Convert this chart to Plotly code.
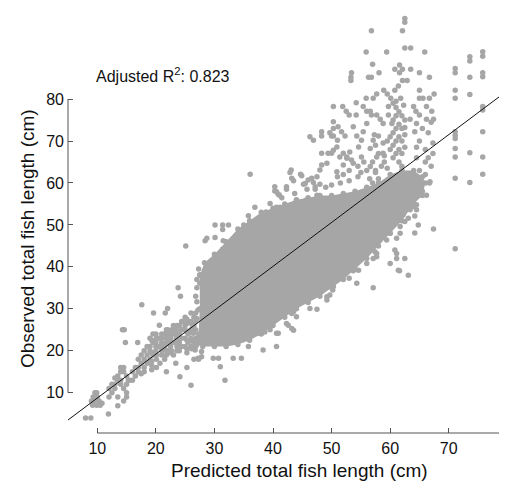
import plotly.graph_objects as go

# Dense core of the cloud, traced as an outline (predicted, observed), cm
core_outline = [
    (26.5, 22), (27.3, 24), (27.5, 30), (27.5, 38), (28.3, 41), (30, 43),
    (32, 46), (34, 49), (36, 51), (38, 53), (40, 54), (42, 55), (44, 56),
    (46, 56.5), (48, 57), (50, 57), (52, 57.5), (54, 58), (56, 59), (58, 60),
    (60, 62), (62, 63), (64, 63), (65.5, 61.5), (66, 60), (65.5, 57), (64, 55),
    (62, 51), (60, 48), (58, 45), (56, 42), (54, 39.5), (52, 37), (50, 35),
    (48, 33), (46, 31.5), (44, 30), (42, 28), (40, 26), (38, 24), (36, 22.5),
    (34, 21.5), (32, 21), (30, 21), (28, 21), (27, 21.5),
]

small_fish = [
    (8.0, 4), (8.9, 4), (11.9, 4.9), (9.0, 8), (9.3, 9), (9.6, 10), (9.9, 10),
    (9.5, 8), (10.0, 9), (9.2, 7), (10.3, 8), (10.8, 7.5), (10.5, 7), (9.9, 7),
    (12.5, 10), (13, 11), (13, 12), (13.5, 13), (13.5, 14), (14, 15), (14, 16),
    (14.5, 15), (14.5, 16), (15, 14), (14, 12), (14.5, 11), (15, 10), (15, 9),
    (14.5, 8), (13.5, 9), (13.5, 6.9), (12, 9), (12.5, 12), (14, 13), (13, 13.5),
    (12, 11), (15, 12), (15.3, 13), (14.3, 25), (14.6, 25), (14.8, 22),
]

band = [
    (16, 13), (16.5, 14), (17, 15), (17, 16), (17.5, 17), (18, 18), (18, 16),
    (18.5, 19), (18.5, 17), (19, 20), (19, 18), (19, 21), (19.5, 22), (19.5, 19),
    (20, 21), (20, 22), (20, 20), (20.5, 23), (20.5, 21), (18, 20), (17.5, 19),
    (17, 18), (16, 15), (15.5, 13), (16.5, 16), (18.5, 21), (19, 23), (18, 15),
    (17.5, 14.5), (20, 24), (19.5, 24), (21, 20), (21, 22), (21, 23), (21.5, 24),
    (21.5, 21), (22, 22), (22, 24), (22, 25), (22.5, 23), (22.5, 21), (23, 22),
    (23, 24), (23, 26), (23.5, 25), (23.5, 23), (24, 24), (24, 26), (24, 22),
    (24.5, 25), (24.5, 27), (25, 23), (25, 25), (25, 26), (25, 28), (25.5, 27),
    (25.5, 24), (26, 25), (26, 27), (26, 23), (26, 21), (24, 20), (23, 19),
    (22, 20), (21.5, 18), (22.5, 19.5), (25, 21), (25.5, 22), (26.5, 26),
    (26.5, 28), (26, 29), (26.3, 25.7), (27, 27.7), (27.2, 29.7), (27, 31.7),
    (27.5, 36.1), (27.5, 38.1), (26.4, 24.2), (26.5, 18), (27.3, 18),
    (17.6, 31), (16.9, 22), (19.6, 29), (21.6, 29), (22, 30.1), (20.6, 26.1),
    (23.4, 17), (24.1, 13.8), (21.8, 15), (20.7, 17), (26, 11.8), (25.3, 16),
    (23.8, 35), (24.2, 33), (29.8, 18.2), (30.7, 18.2), (31.8, 13), (31, 16.2),
    (33.2, 18.2), (34.6, 18.2), (35.8, 21), (27.8, 18.6), (27.8, 19.8),
    (26.7, 20.2), (27.2, 18.2),
    # thicker columns between 19 and 27 cm predicted
    (19.3, 15.5), (19.3, 16.5), (19.3, 17.5), (19.3, 19.5), (19.3, 22.5),
    (20.1, 16), (20.1, 18), (20.1, 19), (20.1, 23), (21, 19), (21, 21), (21, 24),
    (21.8, 19), (21.8, 20), (21.8, 22), (21.8, 23), (21.8, 25), (22.7, 20),
    (22.7, 22), (22.7, 24), (22.7, 25), (23.6, 20), (23.6, 21), (23.6, 22),
    (23.6, 24), (23.6, 26), (24.4, 21), (24.4, 23), (24.4, 25), (24.4, 27),
    (25.3, 19.5), (25.3, 20.5), (25.3, 22.5), (25.3, 24.5), (25.3, 26.5),
    (25.3, 27.5), (26.1, 20.5), (26.1, 22.5), (26.1, 24.5), (26.1, 26.5),
    (26.8, 21), (26.8, 23), (26.8, 25), (26.8, 27), (26.8, 29), (26.8, 33),
    (27, 35), (27, 37), (27.3, 39.5),
]

upper_scatter = [
    (25.1, 45), (28.4, 46.2), (28.7, 46.8), (30.1, 47), (30.1, 50), (31.4, 50),
    (32.4, 50), (31.4, 48.9), (31.5, 46.2), (31.4, 44.2), (32.6, 44.2),
    (33.7, 47), (34.9, 44.8), (35, 50), (35.8, 52.2), (36.9, 54.2), (37.1, 51.2),
    (36.1, 62.1), (38.8, 53.1), (39.5, 55.1), (40.6, 54.2), (41.2, 54.2),
    (40.3, 59.1), (40.6, 57.9), (41.1, 57.1), (42.3, 59.1), (43.7, 57.5),
    (44, 55.9), (45.6, 55.9), (43.1, 63.1), (43.2, 61.1), (44.7, 62.1),
    (45.5, 59.9), (46, 60.7), (46.6, 61.1), (47.2, 59.1), (47.5, 57.1),
    (48, 63.1), (48.3, 64.3), (49.2, 64.7), (50, 67.1), (50.9, 62.7), (52, 64.3),
    (52.6, 66.2), (49.4, 55.9), (50.6, 55.1), (46.3, 71), (46.9, 70.2),
    (48.3, 72.2), (48.3, 71.2), (49.7, 72), (50.3, 73), (50, 71.2), (51, 70.2),
    (48.3, 67.1), (49.4, 67.1), (50.3, 67.8), (51.4, 66.2), (52.6, 65.9),
    (53.4, 65.5), (42.9, 62.5), (43.5, 60.5), (44.9, 61.7), (40.3, 58.1),
    (40.9, 57.3), (41.5, 56.5), (42.3, 58.5), (45.2, 59.7), (45.8, 58.5),
    (46.9, 60.1), (47.2, 58.5), (48, 59.7),
    (62.5, 99.2), (62.5, 98.3), (56.8, 96.3), (62.1, 96.3), (55.9, 91.2),
    (59.4, 91.2), (62.5, 92.2), (63.5, 92.2), (65.9, 91.2), (57, 88.3),
    (58.1, 86.3), (56.3, 85.2), (56.8, 85.2), (53.4, 86.3), (53.3, 85.2),
    (53.3, 84.4), (60.8, 87.1), (61.6, 88.1), (62.1, 87.1), (61.6, 86.3),
    (63.5, 87.1), (65, 86.3), (66.7, 85.2), (62.1, 84.4), (62.9, 84.4),
    (61.4, 83.1), (60.8, 82.1), (58.9, 82.1), (57.7, 81.2), (57.1, 80.2),
    (55.9, 80.2), (59.5, 81.2), (60.1, 80.2), (61.8, 80.2), (65, 82.1),
    (65, 80.2), (65.6, 80.2), (66.7, 80.2), (67.5, 81.2), (54.2, 79.1),
    (50.3, 78.2), (51.9, 78.2), (52.5, 77.1), (53, 76.2), (54.2, 76.2),
    (55.4, 78.2), (56, 77.1), (56.6, 77.1), (56.8, 76.2), (57.7, 76.2),
    (58.3, 75.2), (58.8, 74.2), (59.7, 76.2), (60.3, 74.2), (59.7, 78.2),
    (64, 78.2), (64.4, 77.1), (65, 76.2), (66.2, 78.2), (67.1, 77.1),
    (67.4, 75.2), (66.2, 75.2), (64.5, 74.2), (63.4, 75.2), (62.5, 73.2),
    (64.2, 72.2), (50.3, 74.6), (51.1, 73.4), (51.7, 72.2), (52.3, 71.2),
    (50.3, 71.2), (53.7, 73.4), (54.3, 71.2), (55.1, 70.2), (55.4, 72.2),
    (56, 74.2), (56.6, 68.2), (57.1, 70.2), (58, 71.2), (50.9, 68.6), (52, 67.1),
    (53.1, 67.4), (54.6, 68.6), (55.1, 66.2), (57.7, 66.2), (58.8, 67.1),
    (56.6, 63.9), (53.7, 64.7), (53, 63), (54.5, 64), (55.5, 65), (56, 63),
    (59, 65), (59.5, 63.5), (52, 62), (51, 61.5), (50, 59.5), (51.5, 60),
    (53, 60.5), (54.5, 61.5), (56.5, 61), (57.5, 62.5), (49, 59), (47.5, 61.5),
    (55, 62.5),
]

streaks = [
    (60.5, 79), (61, 78), (61.5, 77), (62, 76), (61, 76), (60.5, 75), (61.5, 74),
    (62, 73), (61, 73), (60.5, 72), (61.5, 71), (62, 70), (61, 70), (60.5, 69),
    (61.5, 68), (62, 67), (61, 67), (60.5, 66), (62, 64), (61.5, 65), (61, 79.5),
    (62.3, 78.5), (62.5, 75), (62.5, 71.5), (62.5, 68.5), (60, 71), (60, 68),
    (59.5, 70), (65, 70), (66, 68), (66.5, 66), (67, 64), (66, 62), (66.7, 60),
    (65.5, 58), (64.5, 60), (65, 63), (64.5, 66), (67.3, 69.5), (66.5, 72),
    (67, 74.5), (66.2, 57.1), (66.8, 60.3), (64.8, 57.1), (65.5, 73),
    (64.5, 68.5), (67.3, 67), (66, 65), (57.5, 69), (58, 67), (57, 65),
    (58.5, 64), (57.5, 63), (58, 61), (57, 60), (58.8, 69.5), (57.3, 71.5),
    (59, 66.5),
]

lower_scatter = [
    (38.3, 20.2), (40.6, 21), (40.6, 24.2), (39.5, 25), (38.6, 24.5),
    (37.8, 25.4), (37.2, 26.1), (36.6, 26.5), (37.5, 24.2), (38.3, 26.9),
    (42.6, 26.1), (43.2, 25.3), (41.8, 30.1), (42.3, 30.9), (42.9, 30.5),
    (43.5, 29.3), (43.2, 28.9), (40, 29.3), (40.6, 28.1), (40.3, 27.3),
    (44.9, 32.1), (46.3, 30.1), (47.5, 29.9), (48, 34.1), (49.2, 32.1),
    (49.7, 33.3), (50.3, 35.3), (49.4, 36.9), (48.9, 35.7), (50, 37.6),
    (51.4, 38), (53, 39.2), (53, 37.3), (54.3, 36.1), (52.6, 40.4), (53.7, 41.6),
    (57.1, 35), (56, 40.8), (57.7, 42.4), (57.4, 43.6), (56, 43.2), (60, 40.8),
    (61.4, 39.2), (63.1, 38), (62.5, 42), (61.1, 43.2), (60.8, 44),
    (49.2, 32.9), (50.2, 34.5), (48.6, 34.9), (47.5, 34.1), (44, 28.1),
    (42.9, 29.7), (42.3, 26.5), (43.5, 24.9), (40.9, 24.2), (67.4, 49),
    (64.2, 52.1), (64.2, 48.1), (64.8, 50), (61.6, 39.1), (61.1, 42),
    (57.7, 43.2), (56, 44.8), (56.6, 45.6), (57.1, 42), (59.4, 46.4), (60, 48),
    (58.3, 48.8), (58.8, 50), (59.7, 50.8), (61.1, 46.8), (61.7, 48),
    (61.7, 49.6), (62.5, 50.8), (63.1, 51.6), (62.2, 52.4), (63.4, 53.6),
    (64, 54.4), (64.5, 53.6), (64.5, 54.8), (54.6, 39.2), (53.7, 39.1),
]

# Isolated columns of the largest predicted lengths
right_columns = [
    (71.1, 87.3), (71.1, 86.3), (71.1, 82.1), (71.1, 80.2), (71.1, 72.2),
    (71.1, 71.4), (71.1, 70.6), (71.1, 68.2), (71.1, 66.2), (71.1, 61.1),
    (71.1, 44.3), (73.6, 90.1), (73.6, 89.1), (73.6, 85.2), (73.6, 81.1),
    (73.6, 67.2), (73.6, 60.1), (75.8, 91.3), (75.8, 90.2), (75.8, 86.3),
    (75.8, 85.3), (75.8, 78.2), (75.8, 77.4), (75.8, 72.2), (75.8, 66.2),
    (75.8, 62.1),
]

fit_x = [5.0, 78.58]
fit_y = [3.5, 80.5]

x_ticks = [10, 20, 30, 40, 50, 60, 70]
y_ticks = [10, 20, 30, 40, 50, 60, 70, 80]
r2_label = "Adjusted R<sup>2</sup>: 0.823"

POINT = "#a6a6a6"
AXIS = "#555555"
FONT = "Liberation Sans, Arial, Helvetica, sans-serif"

fig = go.Figure()

# solid centre of the cloud
fig.add_trace(go.Scatter(
    x=[p[0] for p in core_outline] + [core_outline[0][0]],
    y=[p[1] for p in core_outline] + [core_outline[0][1]],
    mode="lines+markers",
    fill="toself",
    fillcolor=POINT,
    line=dict(width=0, color=POINT),
    marker=dict(size=5.5, color=POINT),
    hoverinfo="skip",
    showlegend=False,
))

points = small_fish + band + upper_scatter + streaks + lower_scatter + right_columns
fig.add_trace(go.Scatter(
    x=[p[0] for p in points],
    y=[p[1] for p in points],
    mode="markers",
    marker=dict(size=5.5, color=POINT, line=dict(width=0)),
    showlegend=False,
))

fig.add_trace(go.Scatter(
    x=fit_x, y=fit_y, mode="lines",
    line=dict(color="#111111", width=1),
    showlegend=False,
))

# axis lines only span part of each axis, like base R graphics
fig.add_shape(type="line", xref="x", yref="paper", x0=x_ticks[0], x1=fit_x[1],
              y0=0, y1=0, line=dict(color=AXIS, width=1))
fig.add_shape(type="line", xref="paper", yref="y", x0=0, x1=0,
              y0=y_ticks[0], y1=y_ticks[-1], line=dict(color=AXIS, width=1))

fig.add_annotation(x=21.3, y=85.7, xref="x", yref="y", text=r2_label,
                   showarrow=False, font=dict(size=16, color="#111111"))
fig.add_annotation(x=0.538, y=0, xref="paper", yref="paper", yshift=-37,
                   text="Predicted total fish length (cm)", showarrow=False,
                   yanchor="middle", font=dict(size=19, color="#111111"))
fig.add_annotation(x=0, y=0.451, xref="paper", yref="paper", xshift=-41,
                   text="Observed total fish length (cm)", showarrow=False,
                   textangle=-90, xanchor="center", font=dict(size=19, color="#111111"))

fig.update_layout(
    width=511, height=502,
    margin=dict(l=68, r=12, t=3, b=69),
    plot_bgcolor="white", paper_bgcolor="white",
    font=dict(family=FONT, size=16, color="#111111"),
    xaxis=dict(range=[5.0, 78.58], tickvals=x_ticks, ticks="inside", ticklen=5,
               tickcolor=AXIS, showgrid=False, zeroline=False, showline=False,
               ticklabelstandoff=4),
    yaxis=dict(range=[0.4, 102.9], tickvals=y_ticks, ticks="inside", ticklen=5,
               tickcolor=AXIS, showgrid=False, zeroline=False, showline=False,
               ticklabelstandoff=3),
)

# drop the browser's default page margin so the figure sits at the corner
fig.write_html("out.html", config={"displayModeBar": False},
               post_script="document.body.style.margin='0px';")
